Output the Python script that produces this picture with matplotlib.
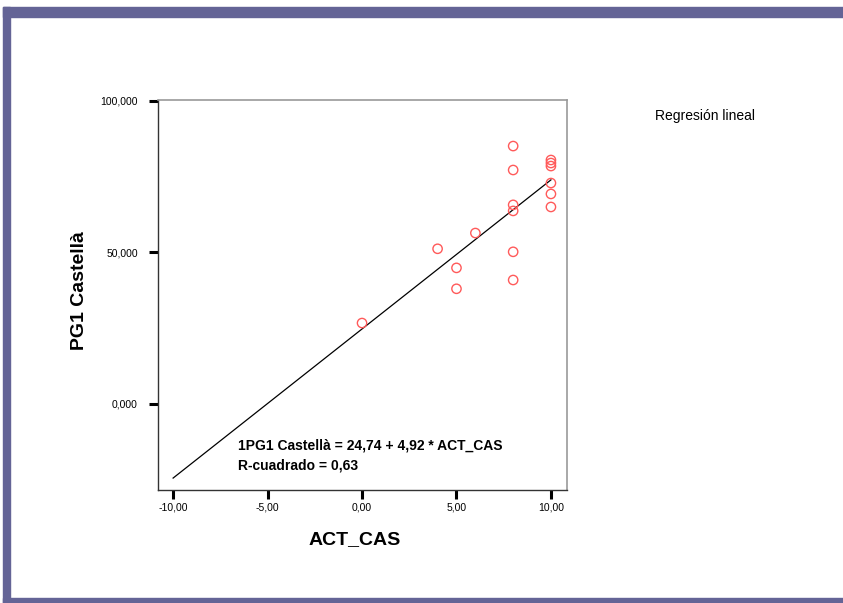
import matplotlib.pyplot as plt
from matplotlib.patches import Rectangle
from matplotlib.ticker import FixedLocator

plt.rcParams['font.family'] = ['Liberation Sans', 'DejaVu Sans']

# ACT_CAS vs PG1 Castellà
act_cas = [0, 4, 5, 5, 6, 8, 8, 8, 8, 8, 8, 10, 10, 10, 10, 10, 10]
pg1_castella = [26.7, 51.2, 44.9, 38.0, 56.4, 85.1, 77.2, 65.7, 63.7, 50.2, 40.9,
                80.5, 79.5, 78.5, 72.9, 69.3, 65.0]

intercept = 24.74
slope = 4.92
fit_x = [-10, 10]

x_ticks = [-10, -5, 0, 5, 10]
x_labels = ["-10,00", "-5,00", "0,00", "5,00", "10,00"]
y_ticks = [0, 50, 100]
y_labels = ["0,000", "50,000", "100,000"]

W, H = 843, 603
fig = plt.figure(figsize=(W / 100, H / 100), dpi=100)

# purple frame (top, left, bottom)
band = "#646496"
fig.patches.append(Rectangle((3 / W, 1 - 17 / H), 1, 10 / H, transform=fig.transFigure,
                             color=band, zorder=0))
fig.patches.append(Rectangle((3 / W, 0), 7 / W, 1 - 7 / H, transform=fig.transFigure,
                             color=band, zorder=0))
fig.patches.append(Rectangle((3 / W, 0), 1, 5 / H, transform=fig.transFigure,
                             color=band, zorder=0))

ax = fig.add_axes([158 / W, 1 - 490 / H, (567 - 158) / W, (490 - 100) / H])
ax.scatter(act_cas, pg1_castella, s=45, facecolors="none", edgecolors="#ff5a5a",
           linewidths=1.0, zorder=3)
ax.plot(fit_x, [intercept + slope * v for v in fit_x], color="black", lw=0.9)

ax.set_xlim(-10.8, 10.85)
ax.set_ylim(-28.4, 100.3)
ax.xaxis.set_major_locator(FixedLocator(x_ticks))
ax.yaxis.set_major_locator(FixedLocator(y_ticks))
ax.set_xticklabels(x_labels, fontsize=7.5)
ax.set_yticklabels(y_labels, fontsize=7.5)
ax.tick_params(axis="both", direction="out", length=6.5, width=2.2, color="black")
ax.tick_params(axis="y", pad=8)
ax.tick_params(axis="x", pad=2.5)

for side in ("left", "bottom"):
    ax.spines[side].set_color("#333333")
    ax.spines[side].set_linewidth(1.0)
for side in ("top", "right"):
    ax.spines[side].set_color("#999999")
    ax.spines[side].set_linewidth(1.2)

ax.text(-6.58, -17.0, "1PG1 Castellà = 24,74 + 4,92 * ACT_CAS\nR-cuadrado = 0,63",
        fontsize=10, fontweight="bold", va="center", ha="left", linespacing=1.6)

fig.text(80 / W, 1 - 291 / H, "PG1 Castellà", rotation=90, fontsize=14,
         fontweight="bold", ha="center", va="center")
fig.text(355 / W, 1 - 540 / H, "ACT_CAS", fontsize=14, fontweight="bold",
         ha="center", va="center")
fig.text(655 / W, 1 - 116 / H, "Regresión lineal", fontsize=10, ha="left", va="center")

fig.savefig("out.png", dpi=100)
